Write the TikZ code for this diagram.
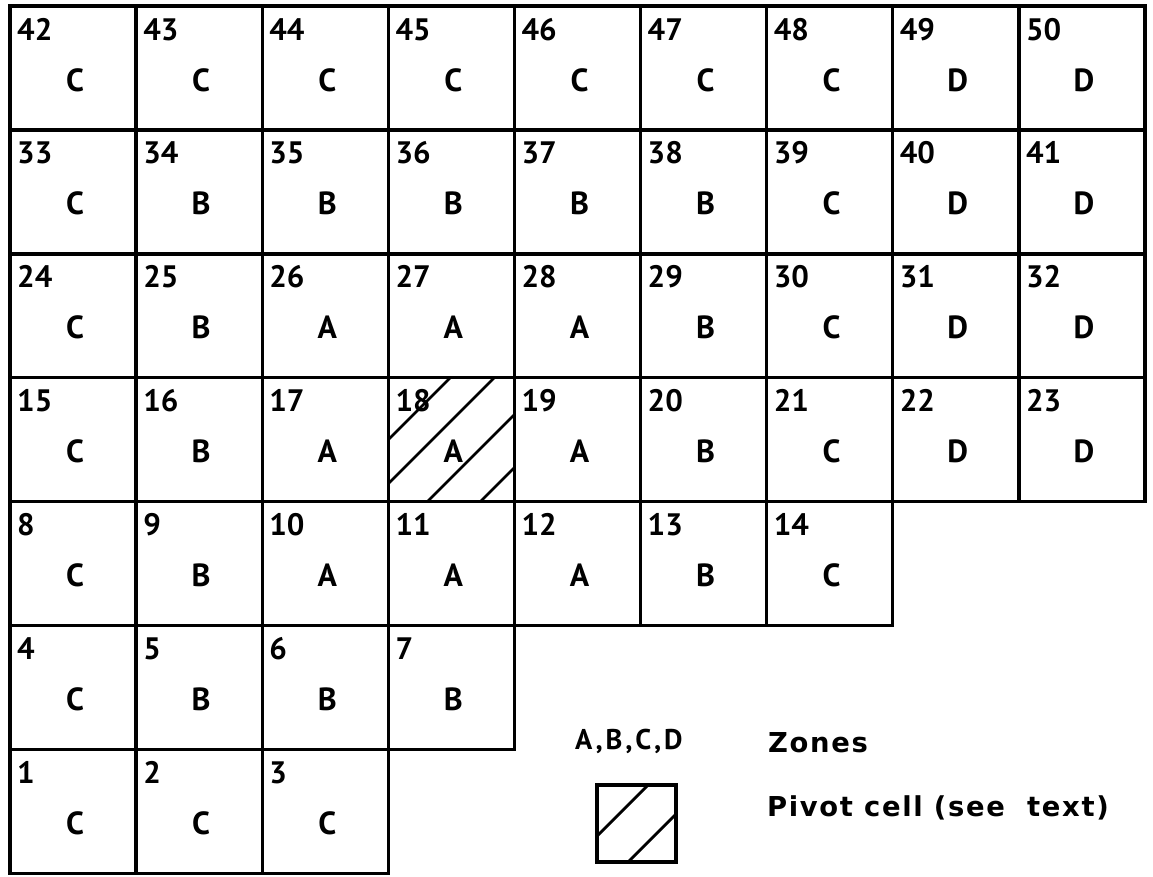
\documentclass[tikz,border=0pt]{standalone}
\usepackage{fontspec}
\setmainfont{PT Sans}
\newfontfamily\legfont{DejaVu Sans}[LetterSpace=6]
\usetikzlibrary{calc}
\tikzset{
  cell/.style={draw, rectangle, line width=3.4pt, minimum width=126.1pt, minimum height=123.9pt, inner sep=0pt, outer sep=0pt},
  num/.style={anchor=base west, inner sep=0pt, font=\bfseries\fontsize{31}{34}\selectfont},
  zone/.style={anchor=base, inner sep=0pt, font=\bfseries\fontsize{32}{36}\selectfont},
  hatchline/.style={line width=2.8pt},
  legtext/.style={anchor=base west, inner sep=0pt, font=\legfont\bfseries\fontsize{27.4}{32}\selectfont},
}
\begin{document}
\begin{tikzpicture}[x=1pt,y=-1pt]
\useasboundingbox (0,0) rectangle (1153,876);
\foreach \n/\c/\r/\z in {
  42/0/0/C,43/1/0/C,44/2/0/C,45/3/0/C,46/4/0/C,47/5/0/C,48/6/0/C,49/7/0/D,50/8/0/D,
  33/0/1/C,34/1/1/B,35/2/1/B,36/3/1/B,37/4/1/B,38/5/1/B,39/6/1/C,40/7/1/D,41/8/1/D,
  24/0/2/C,25/1/2/B,26/2/2/A,27/3/2/A,28/4/2/A,29/5/2/B,30/6/2/C,31/7/2/D,32/8/2/D,
  15/0/3/C,16/1/3/B,17/2/3/A,18/3/3/A,19/4/3/A,20/5/3/B,21/6/3/C,22/7/3/D,23/8/3/D,
  8/0/4/C,9/1/4/B,10/2/4/A,11/3/4/A,12/4/4/A,13/5/4/B,14/6/4/C,
  4/0/5/C,5/1/5/B,6/2/5/B,7/3/5/B,
  1/0/6/C,2/1/6/C,3/2/6/C}{
  \node[cell] (c\n) at ({10+126.1*(\c+0.5)},{6+123.9*(\r+0.5)}) {};
  \node[num] (n\n) at ($(c\n.north west)+(7,34)$) {\n};
  \node[zone] (z\n) at ($(c\n.north)+(2,85)$) {\z};
}
% pivot cell hatching
\begin{scope}
  \clip (c18.north west) rectangle (c18.south east);
  \foreach \s in {62,106,163,216}
    \draw[hatchline] ($(c18.north west)+(-40,\s+40)$) -- ($(c18.north west)+(\s+40,-40)$);
\end{scope}
% legend
\node[legtext, font=\bfseries\fontsize{28.5}{32}\selectfont\addfontfeature{LetterSpace=10}] (legabcd) at (575,749) {A,B,C,D};
\node[legtext] (legzones) at (768,752) {Zones};
\node[cell, minimum width=79pt, minimum height=77pt, line width=4pt] (legbox) at (636.5,823.5) {};
\begin{scope}
  \clip (legbox.north west) rectangle (legbox.south east);
  \foreach \s in {51,108}
    \draw[hatchline] ($(legbox.north west)+(-40,\s+40)$) -- ($(legbox.north west)+(\s+40,-40)$);
\end{scope}
\node[legtext] (legpivot) at (767,816) {Pivot cell (see\ \ text)};
\end{tikzpicture}
\end{document}
